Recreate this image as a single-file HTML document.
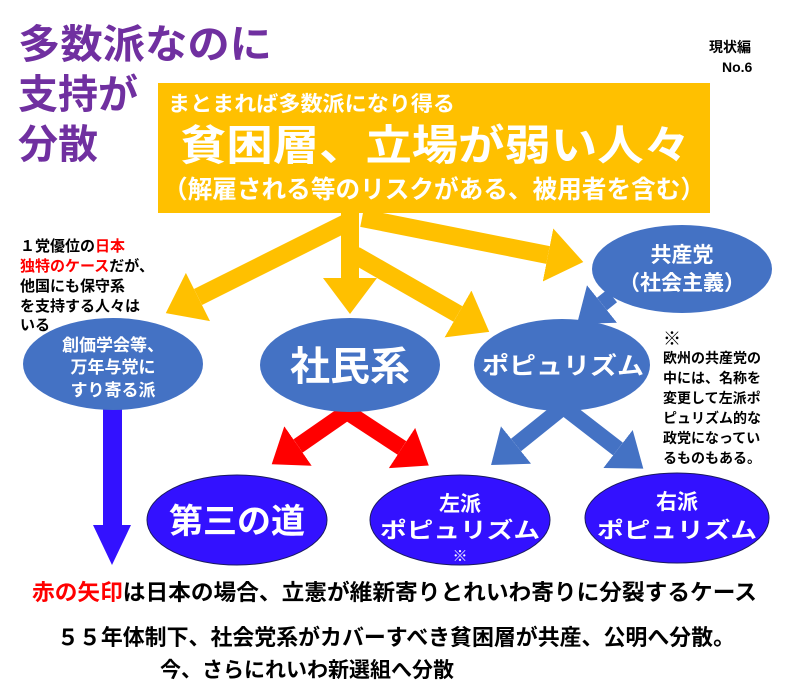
<!DOCTYPE html>
<html><head><meta charset="utf-8"><style>
html,body{margin:0;padding:0;background:#fff}
svg{display:block}
text{font-family:"Liberation Sans","Noto Sans CJK JP",sans-serif;font-weight:bold}
</style></head><body>
<svg width="793" height="699" viewBox="0 0 793 699" xmlns="http://www.w3.org/2000/svg">
<defs>
<marker id="mg" markerWidth="3" markerHeight="3" refX="0" refY="1.5" orient="auto" markerUnits="strokeWidth"><path d="M0,0 L0,3 L2,1.5 z" fill="#FFC000"/></marker>
<marker id="mb" markerWidth="3" markerHeight="3" refX="0" refY="1.5" orient="auto" markerUnits="strokeWidth"><path d="M0,0 L0,3 L2,1.5 z" fill="#4472C4"/></marker>
<marker id="mr" markerWidth="3" markerHeight="3" refX="0" refY="1.5" orient="auto" markerUnits="strokeWidth"><path d="M0,0 L0,3 L2,1.5 z" fill="#FF0000"/></marker>
</defs>
<g fill="#7030A0" font-size="40">
<text x="18" y="58" textLength="254" lengthAdjust="spacingAndGlyphs">多数派なのに</text>
<text x="18" y="108">支持が</text>
<text x="18" y="158">分散</text>
</g>
<text x="709" y="52" font-size="14">現状編</text>
<text x="722" y="72" font-size="14">No.6</text>
<rect x="158" y="83" width="552" height="130" fill="#FFC000"/>
<g fill="#fff">
<text x="168" y="111" font-size="21" textLength="287" lengthAdjust="spacingAndGlyphs">まとまれば多数派になり得る</text>
<text x="180" y="160" font-size="42" textLength="510" lengthAdjust="spacingAndGlyphs">貧困層、立場が弱い人々</text>
<text x="163" y="198" font-size="25" textLength="542" lengthAdjust="spacingAndGlyphs">（解雇される等のリスクがある、被用者を含む）</text>
</g>
<g stroke="#FFC000" stroke-width="18" fill="none">
<line x1="350" y1="212" x2="350" y2="278" marker-end="url(#mg)"/>
<line x1="348" y1="222" x2="198" y2="297" marker-end="url(#mg)"/>
<line x1="355" y1="255" x2="458" y2="314" marker-end="url(#mg)"/>
<line x1="362" y1="218" x2="548" y2="255" marker-end="url(#mg)"/>
</g>
<g stroke="#4472C4" stroke-width="16" fill="none">
<line x1="612" y1="296" x2="602" y2="304" marker-end="url(#mb)"/>
<line x1="562" y1="408" x2="516" y2="445" marker-end="url(#mb)"/>
<line x1="565" y1="408" x2="618" y2="449" marker-end="url(#mb)"/>
</g>
<g stroke="#FF0000" stroke-width="16" fill="none">
<line x1="347" y1="412" x2="298" y2="446" marker-end="url(#mr)"/>
<line x1="347" y1="412" x2="402" y2="448" marker-end="url(#mr)"/>
</g>
<rect x="103" y="408" width="19" height="118" fill="#3311FF"/>
<path d="M93,525 L131,525 L112,565 z" fill="#3311FF"/>
<g fill="#4472C4">
<ellipse cx="113" cy="364" rx="90" ry="46"/>
<ellipse cx="350" cy="365" rx="90" ry="47"/>
<ellipse cx="562" cy="365" rx="88" ry="46"/>
<ellipse cx="682" cy="269" rx="90" ry="44"/>
</g>
<g fill="#3311FF" stroke="#1a1a60" stroke-width="1">
<ellipse cx="237" cy="520" rx="90" ry="45"/>
<ellipse cx="460" cy="520" rx="90" ry="45"/>
<ellipse cx="677" cy="518" rx="92" ry="45"/>
</g>
<g fill="#fff" text-anchor="middle">
<text x="113" y="351" font-size="17">創価学会等、</text>
<text x="113" y="373" font-size="17">万年与党に</text>
<text x="113" y="396" font-size="17">すり寄る派</text>
<text x="350" y="380" font-size="40">社民系</text>
<text x="563" y="374" font-size="24" textLength="162" lengthAdjust="spacingAndGlyphs">ポピュリズム</text>
<text x="682" y="262" font-size="21">共産党</text>
<text x="682" y="290" font-size="21">（社会主義）</text>
<text x="237" y="533" font-size="34">第三の道</text>
<text x="460" y="511" font-size="21">左派</text>
<text x="460" y="538" font-size="22" textLength="160" lengthAdjust="spacingAndGlyphs">ポピュリズム</text>
<text x="460" y="561" font-size="15">※</text>
<text x="677" y="509" font-size="21">右派</text>
<text x="677" y="538" font-size="22" textLength="160" lengthAdjust="spacingAndGlyphs">ポピュリズム</text>
</g>
<g font-size="15" fill="#000">
<text x="20" y="251">１党優位の<tspan fill="#FF0000">日本</tspan></text>
<text x="20" y="271"><tspan fill="#FF0000">独特のケース</tspan>だが、</text>
<text x="20" y="291">他国にも保守系</text>
<text x="20" y="311">を支持する人々は</text>
<text x="20" y="330">いる</text>
</g>
<g font-size="14" fill="#000">
<text x="663" y="345" font-size="18">※</text>
<text x="663" y="363">欧州の共産党の</text>
<text x="663" y="383">中には、名称を</text>
<text x="663" y="403">変更して左派ポ</text>
<text x="663" y="423">ピュリズム的な</text>
<text x="663" y="443">政党になってい</text>
<text x="663" y="463">るものもある。</text>
</g>
<text x="32" y="600" font-size="22" textLength="725" lengthAdjust="spacingAndGlyphs"><tspan fill="#FF0000">赤の矢印</tspan>は日本の場合、立憲が維新寄りとれいわ寄りに分裂するケース</text>
<text x="57" y="645" font-size="22" textLength="678" lengthAdjust="spacingAndGlyphs">５５年体制下、社会党系がカバーすべき貧困層が共産、公明へ分散。</text>
<text x="160" y="677" font-size="21">今、さらにれいわ新選組へ分散</text>
</svg>
</body></html>
